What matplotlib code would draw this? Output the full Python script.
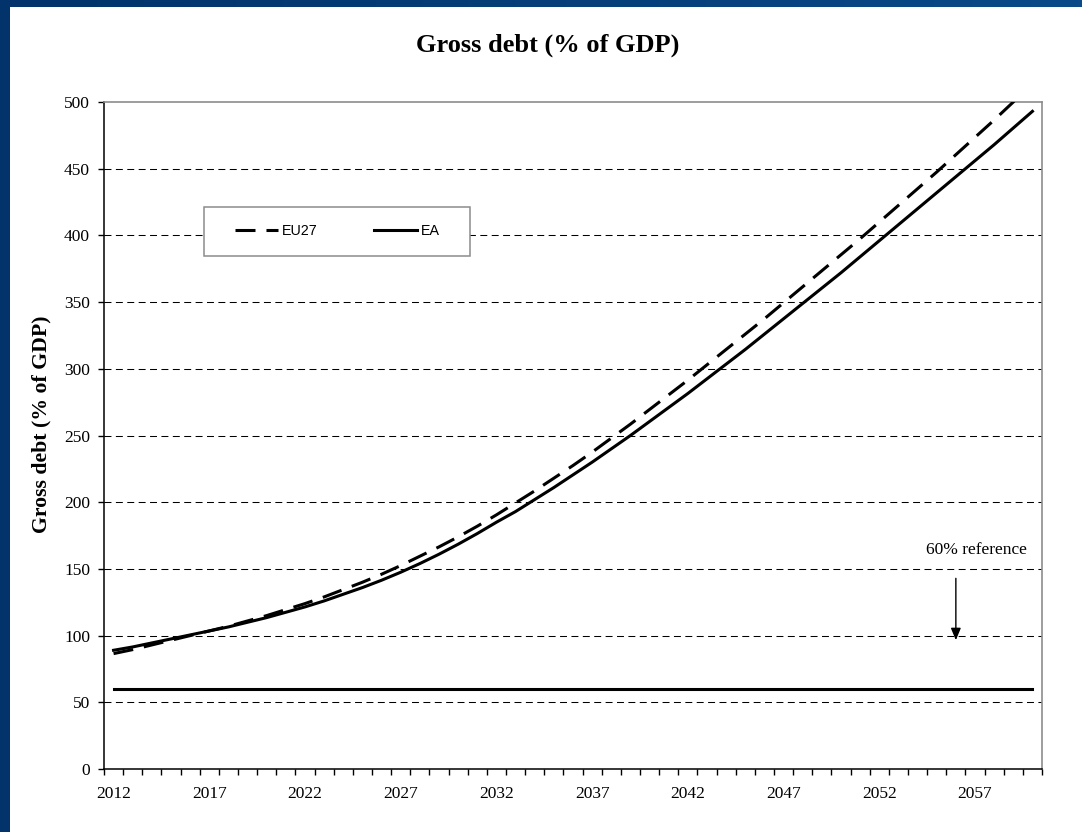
import numpy as np
import matplotlib
matplotlib.use("Agg")
import matplotlib.pyplot as plt
from matplotlib.patches import Rectangle
from matplotlib.lines import Line2D

plt.rcParams["font.family"] = ["Liberation Serif", "DejaVu Serif"]
plt.rcParams["lines.scale_dashes"] = False

# data
years = np.arange(2012, 2061)
eu27 = [86.5, 89.5, 93, 96.5, 100, 103.5, 107, 111, 115, 119.5,
        124, 129, 134.5, 140, 146, 152.5, 159.5, 166.5, 174, 182,
        190.5, 199.5, 208.5, 218, 227.5, 237.5, 248, 258.5, 269.5, 280.5,
        291.5, 303, 314.5, 326, 337.5, 349.5, 361.5, 373.5, 385.5, 397.5,
        410, 422.5, 435, 447.5, 460.5, 473.5, 486.5, 500, 513.5]
ea = [89, 91.5, 94.5, 97.5, 100.5, 103.5, 106.5, 110, 113.5, 117.5,
      121.5, 126, 131, 136, 141.5, 147.5, 154, 161, 168.5, 176.5,
      185, 193, 202, 211, 220.5, 230, 240, 250, 260.5, 271,
      281.5, 292.5, 303.5, 314.5, 326, 337.5, 349, 360.5, 372, 384,
      396, 408, 420, 432, 444, 456, 468, 480.5, 493]
reference = [60] * len(years)
label_years = [2012, 2017, 2022, 2027, 2032, 2037, 2042, 2047, 2052, 2057]
y_ticks = list(range(0, 501, 50))
grid_levels = list(range(50, 451, 50))

W, H = 1082, 832
fig = plt.figure(figsize=(W / 100, H / 100), dpi=100)

# blue frame with a soft gradient, white slide body
bg = fig.add_axes([0, 0, 1, 1], zorder=-10)
grad = np.linspace(0, 1, 256)[None, :]
cmap = matplotlib.colors.LinearSegmentedColormap.from_list("bl", ["#02336a", "#0a4a88"])
bg.imshow(grad, aspect="auto", cmap=cmap, extent=[0, 1, 0, 1])
bg.add_patch(Rectangle((10 / W, 0), 1, 1 - 7 / H, facecolor="white", edgecolor="none"))
bg.set_xlim(0, 1)
bg.set_ylim(0, 1)
bg.axis("off")

ax = fig.add_axes([104 / W, 1 - 769 / H, 938 / W, 667 / H])
ax.set_facecolor("white")

for lvl in grid_levels:
    ax.axhline(lvl, color="black", lw=0.75, dashes=(5, 3.2), zorder=1)

LW = 2.2
ax.plot(years, eu27, color="black", lw=LW, dashes=(14.4, 7.9), zorder=3)
ax.plot(years, ea, color="black", lw=LW, zorder=3)
ax.plot(years, reference, color="black", lw=LW, zorder=3)

ax.set_xlim(2011.5, 2060.5)
ax.set_ylim(0, 500)

# category axis: marks between years, labels every fifth year
ax.set_xticks(np.arange(2011.5, 2061, 1.0))
ax.set_xticklabels([])
ax.set_xticks(label_years, minor=True)
ax.set_xticklabels([str(y) for y in label_years], minor=True)
ax.tick_params(axis="x", which="major", direction="out", length=4, width=1, color="black")
ax.tick_params(axis="x", which="minor", length=0, pad=12.5, labelsize=12.5)
ax.set_yticks(y_ticks)
ax.tick_params(axis="y", direction="out", length=4, width=1, pad=6, labelsize=12.5)

for s in ["left", "bottom"]:
    ax.spines[s].set_color("black")
    ax.spines[s].set_linewidth(1.1)
for s in ["top", "right"]:
    ax.spines[s].set_color("#8c8c8c")
    ax.spines[s].set_linewidth(1.2)

# 60% reference note
ax.annotate("", xy=(2056, 94.5), xytext=(2056, 145),
            arrowprops=dict(arrowstyle="-|>,head_length=0.6,head_width=0.25",
                            color="black", lw=1, mutation_scale=12))
ax.text(2057.1, 164, "60% reference", ha="center", va="center", fontsize=12.5)

# legend
handles = [Line2D([], [], color="black", lw=LW, dashes=(14.4, 7.9)),
           Line2D([], [], color="black", lw=LW)]
leg = ax.legend(handles, ["EU27", "EA"], ncol=2, frameon=False,
                prop={"family": "Liberation Sans", "size": 10.3},
                handlelength=3.0, handletextpad=0.25, columnspacing=4.0,
                loc="center left", bbox_to_anchor=(0.1066 + 31 / 938, 0.806),
                borderpad=0, borderaxespad=0)
ax.add_patch(Rectangle((100 / 938, (769 - 256) / 667), 266 / 938, 49 / 667,
                       transform=ax.transAxes, facecolor="white",
                       edgecolor="#8c8c8c", lw=1.1, zorder=4))
leg.set_zorder(5)

fig.text(548 / W, 1 - 45 / H, "Gross debt (% of GDP)", ha="center", va="center",
         fontsize=19, fontweight="bold")
fig.text(41 / W, 1 - 424 / H, "Gross debt (% of GDP)", ha="center", va="center",
         rotation=90, fontsize=15.7, fontweight="bold")

fig.savefig("out.png", dpi=100)
